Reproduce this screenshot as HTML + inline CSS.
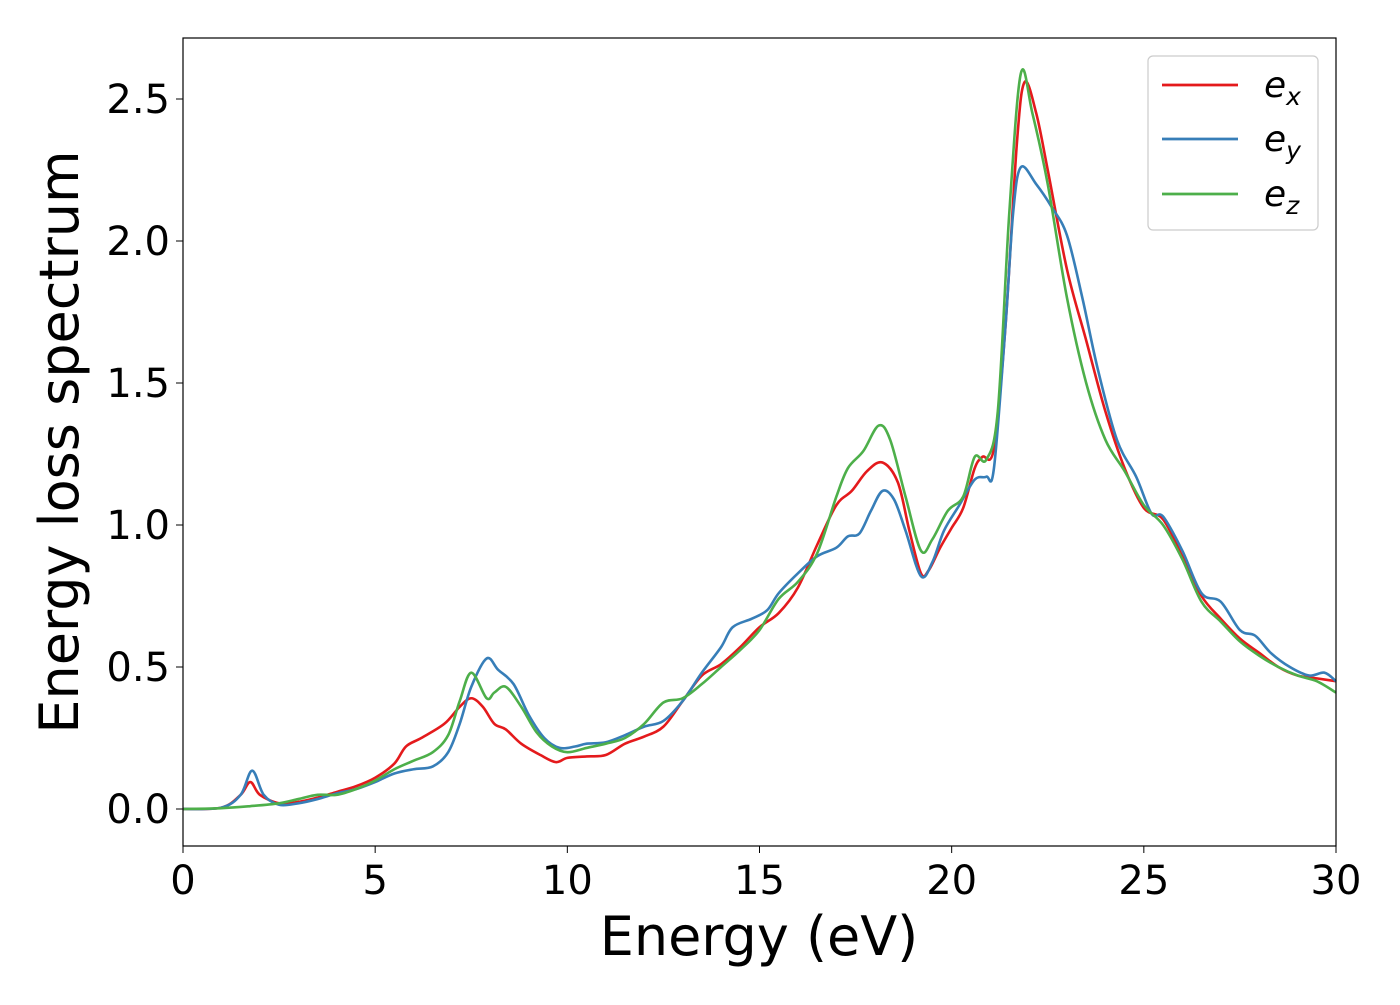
<!DOCTYPE html>
<html><head><meta charset="utf-8"><style>
body{margin:0;background:#fff}
svg text{font-family:"DejaVu Sans","Liberation Sans",sans-serif;fill:#000}
</style></head><body>
<svg id="chart" width="1400" height="1000" xmlns="http://www.w3.org/2000/svg">
<rect width="1400" height="1000" fill="#fff"/>
<g id="series"></g>
<rect x="183" y="38" width="1153" height="808" fill="none" stroke="#000" stroke-width="1.2"/>
<g id="ticks"></g>
<text x="759" y="955" font-size="54" text-anchor="middle">Energy (eV)</text>
<text transform="translate(78,442) rotate(-90)" font-size="54" text-anchor="middle">Energy loss spectrum</text>
<g>
<rect x="1148" y="56" width="170" height="174" rx="5" fill="#fff" stroke="#ccc" stroke-width="1.2"/>
<line x1="1162" y1="85" x2="1238" y2="85" stroke="#e41a1c" stroke-width="2.8"/>
<text x="1264" y="97" font-size="36" font-style="italic">e<tspan font-size="25" dy="8">x</tspan></text>
<line x1="1162" y1="139" x2="1238" y2="139" stroke="#377eb8" stroke-width="2.8"/>
<text x="1264" y="151" font-size="36" font-style="italic">e<tspan font-size="25" dy="8">y</tspan></text>
<line x1="1162" y1="194" x2="1238" y2="194" stroke="#4daf4a" stroke-width="2.8"/>
<text x="1264" y="206" font-size="36" font-style="italic">e<tspan font-size="25" dy="8">z</tspan></text>
</g>
</svg>
<script>
const xTicks=[0,5,10,15,20,25,30];
const yTicks=[0.0,0.5,1.0,1.5,2.0,2.5];
const exE=[0,1,1.5,1.75,2,2.5,3,3.5,4,4.5,5,5.5,5.8,6.2,6.8,7.2,7.5,7.8,8.1,8.4,8.8,9.3,9.7,10,10.5,11,11.5,12,12.5,13,13.5,14,14.5,15,15.5,16,16.5,17,17.4,17.8,18.2,18.6,18.9,19.2,19.4,19.7,20,20.3,20.6,20.8,21.1,21.4,21.7,21.9,22.2,22.5,23,23.5,24,24.5,25,25.5,26,26.5,27,27.5,28,28.5,29,29.5,30];
const exV=[0,0.005,0.05,0.095,0.05,0.02,0.025,0.04,0.06,0.08,0.11,0.16,0.22,0.25,0.3,0.36,0.39,0.36,0.3,0.28,0.23,0.19,0.165,0.18,0.185,0.19,0.23,0.255,0.29,0.38,0.47,0.51,0.57,0.64,0.69,0.78,0.93,1.07,1.12,1.19,1.22,1.15,0.98,0.83,0.84,0.92,0.99,1.06,1.2,1.24,1.27,1.7,2.35,2.56,2.45,2.25,1.9,1.65,1.4,1.2,1.06,1.02,0.89,0.75,0.67,0.6,0.55,0.5,0.47,0.46,0.45];
const eyE=[0,1,1.5,1.8,2.1,2.5,3,3.5,4,4.5,5,5.5,6,6.5,6.9,7.2,7.5,7.9,8.2,8.6,9,9.4,9.8,10.2,10.5,11,11.5,12,12.5,13,13.5,14,14.3,14.8,15.2,15.5,16,16.5,17,17.3,17.6,17.9,18.2,18.5,18.8,19.2,19.5,19.8,20.2,20.6,20.9,21.1,21.4,21.6,21.8,22.2,22.6,23,23.4,23.8,24.3,24.8,25.2,25.5,26,26.5,27,27.5,27.9,28.3,28.8,29.3,29.7,30];
const eyV=[0,0.005,0.05,0.135,0.05,0.015,0.02,0.035,0.055,0.07,0.095,0.125,0.14,0.15,0.2,0.3,0.43,0.53,0.49,0.44,0.33,0.25,0.215,0.22,0.23,0.235,0.26,0.29,0.31,0.38,0.48,0.57,0.64,0.67,0.7,0.76,0.83,0.89,0.92,0.96,0.97,1.05,1.12,1.09,0.98,0.82,0.87,0.98,1.07,1.16,1.17,1.2,1.7,2.1,2.26,2.2,2.12,2.02,1.8,1.55,1.3,1.17,1.04,1.03,0.91,0.76,0.73,0.63,0.61,0.55,0.5,0.47,0.48,0.45];
const ezE=[0,1,1.75,2.5,3,3.5,4,4.5,5,5.5,6,6.5,6.9,7.2,7.5,7.9,8.1,8.4,8.8,9.2,9.6,10,10.5,11,11.5,12,12.5,13,13.5,14,14.5,15,15.5,16,16.5,17,17.3,17.7,18.1,18.4,18.8,19.2,19.5,19.9,20.3,20.6,20.9,21.2,21.5,21.8,22.1,22.5,23,23.5,24,24.5,25,25.5,26,26.5,27,27.5,28,28.5,29,29.5,30];
const ezV=[0,0.003,0.01,0.02,0.035,0.05,0.05,0.07,0.1,0.14,0.17,0.2,0.26,0.38,0.48,0.39,0.41,0.43,0.36,0.27,0.22,0.2,0.215,0.23,0.25,0.3,0.375,0.39,0.44,0.5,0.56,0.63,0.74,0.8,0.9,1.1,1.2,1.26,1.35,1.3,1.1,0.91,0.95,1.05,1.1,1.24,1.23,1.4,2.1,2.59,2.45,2.2,1.8,1.5,1.3,1.19,1.07,1.0,0.88,0.73,0.66,0.59,0.54,0.5,0.47,0.45,0.41];
const X0=183,X1=1336,Y0=809,YS=284;
function sx(v){return X0+v*(X1-X0)/30;}
function sy(v){return Y0-v*YS;}
const NS="http://www.w3.org/2000/svg";
function pathFor(xs,ys){
  const p=xs.map((x,i)=>[sx(x),sy(ys[i])]);
  let d="M"+p[0][0]+","+p[0][1];
  for(let i=0;i<p.length-1;i++){
    const a=p[i-1]||p[i],b=p[i],c=p[i+1],e=p[i+2]||c;
    d+=" C"+(b[0]+(c[0]-a[0])/6)+","+(b[1]+(c[1]-a[1])/6)+" "+(c[0]-(e[0]-b[0])/6)+","+(c[1]-(e[1]-b[1])/6)+" "+c[0]+","+c[1];
  }
  return d;
}
const g=document.getElementById("series");
[[exE,exV,"#e41a1c","series-ex"],[eyE,eyV,"#377eb8","series-ey"],[ezE,ezV,"#4daf4a","series-ez"]].forEach(s=>{
  const el=document.createElementNS(NS,"path");
  el.setAttribute("d",pathFor(s[0],s[1]));
  el.setAttribute("fill","none");el.setAttribute("stroke",s[2]);el.setAttribute("stroke-width","2.6");
  
  
  g.appendChild(el);
});
const t=document.getElementById("ticks");
xTicks.forEach(v=>{
  const l=document.createElementNS(NS,"line");
  l.setAttribute("x1",sx(v));l.setAttribute("x2",sx(v));l.setAttribute("y1",846);l.setAttribute("y2",853);l.setAttribute("stroke","#000");
  
  
  t.appendChild(l);
  const tx=document.createElementNS(NS,"text");
  tx.setAttribute("x",sx(v));tx.setAttribute("y",894);tx.setAttribute("font-size","40");tx.setAttribute("text-anchor","middle");
  tx.textContent=v;
  
  
  t.appendChild(tx);
});
yTicks.forEach(v=>{
  const l=document.createElementNS(NS,"line");
  l.setAttribute("x1",176);l.setAttribute("x2",183);l.setAttribute("y1",sy(v));l.setAttribute("y2",sy(v));l.setAttribute("stroke","#000");
  
  
  t.appendChild(l);
  const tx=document.createElementNS(NS,"text");
  tx.setAttribute("x",170);tx.setAttribute("y",sy(v)+14);tx.setAttribute("font-size","40");tx.setAttribute("text-anchor","end");
  tx.textContent=v.toFixed(1);
  
  
  t.appendChild(tx);
});
</script>
</body></html>
